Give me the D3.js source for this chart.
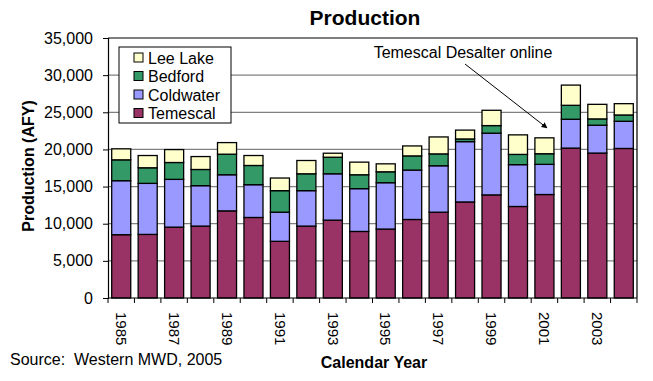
<!DOCTYPE html>
<html><head><meta charset="utf-8">
<script src="https://cdn.jsdelivr.net/npm/d3@7/dist/d3.min.js"></script>
<style>body{margin:0;background:#fff}svg{display:block;font-family:"Liberation Sans",Arial,sans-serif}</style>
</head><body>
<script>
const years = d3.range(1985, 2005).map(String);
const temescal = [8520,8560,9540,9680,11730,10840,7630,9680,10480,8960,9280,10570,11550,12930,13880,12320,13930,20180,19510,20130];
const coldwater = [7270,6870,6430,5440,4860,4410,3920,4770,6240,5760,6240,6650,6250,8120,8310,5630,4060,3880,3750,3660];
const bedford = [2810,2100,2270,2180,2770,2590,2900,2270,2230,1870,1470,1910,1600,360,1020,1380,1430,1880,850,850];
const leeLake = [1480,1650,1740,1740,1560,1340,1700,1790,540,1700,1070,1340,2280,1190,2060,2630,2140,2720,1960,1520];
const seriesNames = ["Temescal","Coldwater","Bedford","Lee Lake"];
const seriesColors = ["#993366","#9999FF","#339966","#FFFFCC"];
const yTicks = [0,5000,10000,15000,20000,25000,30000,35000];
const xLabelYears = ["1985","1987","1989","1991","1993","1995","1997","1999","2001","2003"];

const W=653,H=381;
const L=108,R=637,T=38,B=298;
const svg=d3.select("body").append("svg").attr("width",W).attr("height",H);

const x=d3.scaleBand().domain(years).range([L,R]).paddingInner(0.28).paddingOuter(0.14);
const y=d3.scaleLinear().domain([0,35000]).range([B,T]);

// gridlines
svg.append("g").selectAll("line").data(yTicks.filter(d=>d>0 && d<35000)).join("line")
  .attr("x1",L).attr("x2",R).attr("y1",d=>y(d)).attr("y2",d=>y(d))
  .attr("stroke","#808080").attr("stroke-width",1.2);
// plot border top & right
svg.append("path").attr("d",`M${L},${T}H${R}V${B}`).attr("fill","none").attr("stroke","#000").attr("stroke-width",1.2);

const data = years.map((yr,i)=>({year:yr,Temescal:temescal[i],Coldwater:coldwater[i],Bedford:bedford[i],"Lee Lake":leeLake[i]}));
const stack=d3.stack().keys(seriesNames)(data);
svg.append("g").selectAll("g").data(stack).join("g")
  .attr("fill",(d,i)=>seriesColors[i])
  .selectAll("rect").data(d=>d).join("rect")
  .attr("x",d=>x(d.data.year)).attr("width",x.bandwidth())
  .attr("y",d=>y(d[1])).attr("height",d=>y(d[0])-y(d[1]))
  .attr("stroke","#000").attr("stroke-width",1.3);

// y axis
const ya=svg.append("g").attr("transform",`translate(${L},0)`)
  .call(d3.axisLeft(y).tickValues(yTicks).tickFormat(d3.format(",")).tickSizeOuter(0).tickSize(5).tickPadding(10));
ya.selectAll("text").attr("font-size",16).attr("fill","#000").attr("font-family","Liberation Sans, Arial");
ya.select(".domain").attr("stroke","#000").attr("stroke-width",1.2);

// x axis with ticks at band boundaries
const step=x.step();
const xa=svg.append("g").attr("transform",`translate(0,${B})`);
xa.append("line").attr("x1",L).attr("x2",R).attr("stroke","#000").attr("stroke-width",1.2);
xa.selectAll("line.tk").data(years.concat(["end"])).join("line").attr("class","tk")
  .attr("x1",(d,i)=>L+i*step).attr("x2",(d,i)=>L+i*step).attr("y1",0).attr("y2",5).attr("stroke","#000");
xa.selectAll("text").data(xLabelYears).join("text")
  .attr("transform",d=>`translate(${x(d)+x.bandwidth()/2},14) rotate(90)`)
  .attr("dy","0.35em").attr("font-size",15).attr("fill","#000").text(d=>d);

// title
svg.append("text").attr("x",365).attr("y",25).attr("text-anchor","middle")
  .attr("font-size",21).attr("font-weight","bold").text("Production");
// axis titles
svg.append("text").attr("transform","translate(34,166) rotate(-90)").attr("text-anchor","middle")
  .attr("font-size",16).attr("font-weight","bold").text("Production (AFY)");
svg.append("text").attr("x",374).attr("y",368).attr("text-anchor","middle")
  .attr("font-size",16).attr("font-weight","bold").text("Calendar Year");
svg.append("text").attr("x",10).attr("y",365).attr("font-size",16).style("white-space","pre").text("Source:  Western MWD, 2005");

// legend
const lg=svg.append("g");
lg.append("rect").attr("x",119).attr("y",47).attr("width",112).attr("height",76)
  .attr("fill","#fff").attr("stroke","#000").attr("stroke-width",1);
const legOrder=[3,2,1,0];
legOrder.forEach((si,k)=>{
  const yy=58+k*18.5;
  lg.append("rect").attr("x",134).attr("y",yy-5).attr("width",9).attr("height",9)
    .attr("fill",seriesColors[si]).attr("stroke","#000").attr("stroke-width",1);
  lg.append("text").attr("x",148).attr("y",yy).attr("dy","0.35em").attr("font-size",16).text(seriesNames[si]);
});

// annotation
svg.append("defs").append("marker").attr("id","ah").attr("viewBox","0 0 10 10").attr("refX",9).attr("refY",5)
  .attr("markerWidth",6).attr("markerHeight",6).attr("orient","auto")
  .append("path").attr("d","M0,0L10,5L0,10z").attr("fill","#000");
svg.append("text").attr("x",463).attr("y",58).attr("text-anchor","middle").attr("font-size",16).text("Temescal Desalter online");
svg.append("line").attr("x1",465).attr("y1",64).attr("x2",547).attr("y2",128)
  .attr("stroke","#000").attr("stroke-width",1).attr("marker-end","url(#ah)");
</script>
</body></html>
